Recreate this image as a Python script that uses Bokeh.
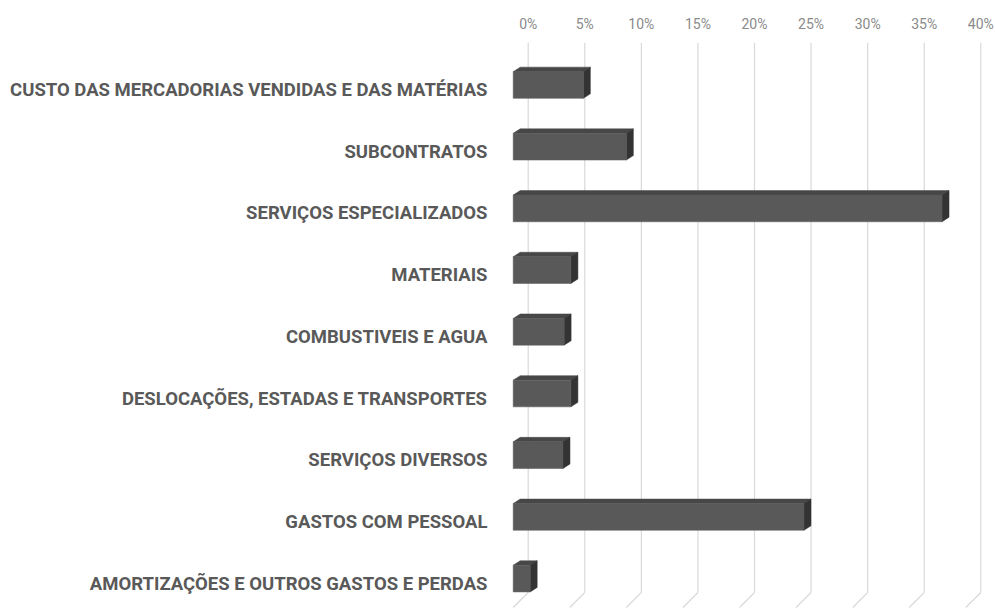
from bokeh.plotting import figure
from bokeh.models import Range1d, FixedTicker, ColumnDataSource
from bokeh.embed import file_html
from bokeh.resources import INLINE

# ---- data -------------------------------------------------------------
categories = [
    "CUSTO DAS MERCADORIAS VENDIDAS E DAS MATÉRIAS",
    "SUBCONTRATOS",
    "SERVIÇOS ESPECIALIZADOS",
    "MATERIAIS",
    "COMBUSTIVEIS E AGUA",
    "DESLOCAÇÕES, ESTADAS E TRANSPORTES",
    "SERVIÇOS DIVERSOS",
    "GASTOS COM PESSOAL",
    "AMORTIZAÇÕES E OUTROS GASTOS E PERDAS",
]
shares = [6.2, 10.0, 37.9, 5.1, 4.5, 5.1, 4.4, 25.7, 1.5]  # percent
x_ticks = [0, 5, 10, 15, 20, 25, 30, 35, 40]
x_tick_labels = ["0%", "5%", "10%", "15%", "20%", "25%", "30%", "35%", "40%"]

# ---- layout constants (pixels) ---------------------------------------
W, H = 995, 608
FRAME_L, FRAME_R, FRAME_T, FRAME_B = 500, 990, 42, 608
PX_X = 11.315      # px per percent
PX_Y = 61.7        # px per category
ZERO_BACK = 527.7  # x pixel of 0% on back wall
ZERO_FRONT = 512.7 # x pixel of 0% on front plane
LABEL_C0 = 89.5    # y pixel of first category label
BAR_C0 = 84.5      # y pixel of first bar front-face centre
WALL_BOTTOM = 592  # y pixel where back wall meets the floor
FLOOR_DX, FLOOR_DY = 15, 15
BAR_H_PX = 26.7
DEPTH_DX, DEPTH_DY = 7.0, 4.5

fw = FRAME_R - FRAME_L
fh = FRAME_B - FRAME_T

x_start = -(ZERO_BACK - FRAME_L) / PX_X
x_range = Range1d(x_start, x_start + fw / PX_X)
xf_start = -(ZERO_FRONT - FRAME_L) / PX_X
y_top = -(LABEL_C0 - FRAME_T) / PX_Y
y_range = Range1d(y_top + fh / PX_Y, y_top)
yb_top = -(BAR_C0 - FRAME_T) / PX_Y

p = figure(width=W, height=H, x_range=x_range, y_range=y_range,
           output_backend="svg", toolbar_location=None,
           x_axis_location="above",
           min_border_left=FRAME_L, min_border_right=W - FRAME_R,
           min_border_top=FRAME_T, min_border_bottom=H - FRAME_B)
p.extra_x_ranges = {"front": Range1d(xf_start, xf_start + fw / PX_X)}
p.extra_y_ranges = {"bars": Range1d(yb_top + fh / PX_Y, yb_top)}
p.outline_line_color = None
p.background_fill_color = "white"
p.border_fill_color = "white"
p.xgrid.visible = False
p.ygrid.visible = False

# ---- gridlines (back wall + floor) -----------------------------------
y_wall = y_top + (WALL_BOTTOM - FRAME_T) / PX_Y
p.segment(x0=x_ticks, y0=[y_top] * len(x_ticks), x1=x_ticks, y1=[y_wall] * len(x_ticks),
          line_color="#d9d9d9", line_width=1.2)
p.segment(x0=x_ticks, y0=[y_wall] * len(x_ticks),
          x1=[t - FLOOR_DX / PX_X for t in x_ticks],
          y1=[y_wall + FLOOR_DY / PX_Y] * len(x_ticks),
          line_color="#d9d9d9", line_width=1.2)

# ---- 3D bars ---------------------------------------------------------
idx = list(range(len(categories)))
bh = BAR_H_PX / PX_Y
dx = DEPTH_DX / PX_X
dy = DEPTH_DY / PX_Y

top_xs, top_ys, side_xs, side_ys = [], [], [], []
for i, v in zip(idx, shares):
    yt = i - bh / 2
    yb = i + bh / 2
    top_xs.append([0, v, v + dx, dx])
    top_ys.append([yt, yt, yt - dy, yt - dy])
    side_xs.append([v, v + dx, v + dx, v])
    side_ys.append([yt, yt - dy, yb - dy, yb])

p.patches(xs=top_xs, ys=top_ys, fill_color="#474747", line_color="#474747",
          line_width=0.5, x_range_name="front", y_range_name="bars")
p.patches(xs=side_xs, ys=side_ys, fill_color="#333333", line_color="#333333",
          line_width=0.5, x_range_name="front", y_range_name="bars")
src = ColumnDataSource(dict(y=idx, right=shares))
p.hbar(y="y", left=0, right="right", height=bh, source=src,
       fill_color="#595959", line_color="#595959", line_width=0.5,
       x_range_name="front", y_range_name="bars")

# ---- axes ------------------------------------------------------------
xa = p.xaxis[0]
xa.ticker = FixedTicker(ticks=x_ticks)
xa.major_label_overrides = {t: l for t, l in zip(x_ticks, x_tick_labels)}
xa.axis_line_color = None
xa.major_tick_line_color = None
xa.minor_tick_line_color = None
xa.major_tick_out = 0
xa.major_tick_in = 0
xa.major_label_standoff = 11
xa.major_label_text_font = "Roboto"
xa.major_label_text_font_size = "14px"
xa.major_label_text_color = "#8a8a8a"

ya = p.yaxis[0]
ya.ticker = FixedTicker(ticks=idx)
ya.major_label_overrides = {i: c for i, c in zip(idx, categories)}
ya.axis_line_color = None
ya.major_tick_line_color = None
ya.minor_tick_line_color = None
ya.major_tick_out = 0
ya.major_tick_in = 0
ya.major_label_standoff = 13
ya.major_label_text_font = "Roboto"
ya.major_label_text_font_style = "bold"
ya.major_label_text_font_size = "18.5px"
ya.major_label_text_color = "#595959"

open("out.html", "w").write(file_html(p, INLINE))
